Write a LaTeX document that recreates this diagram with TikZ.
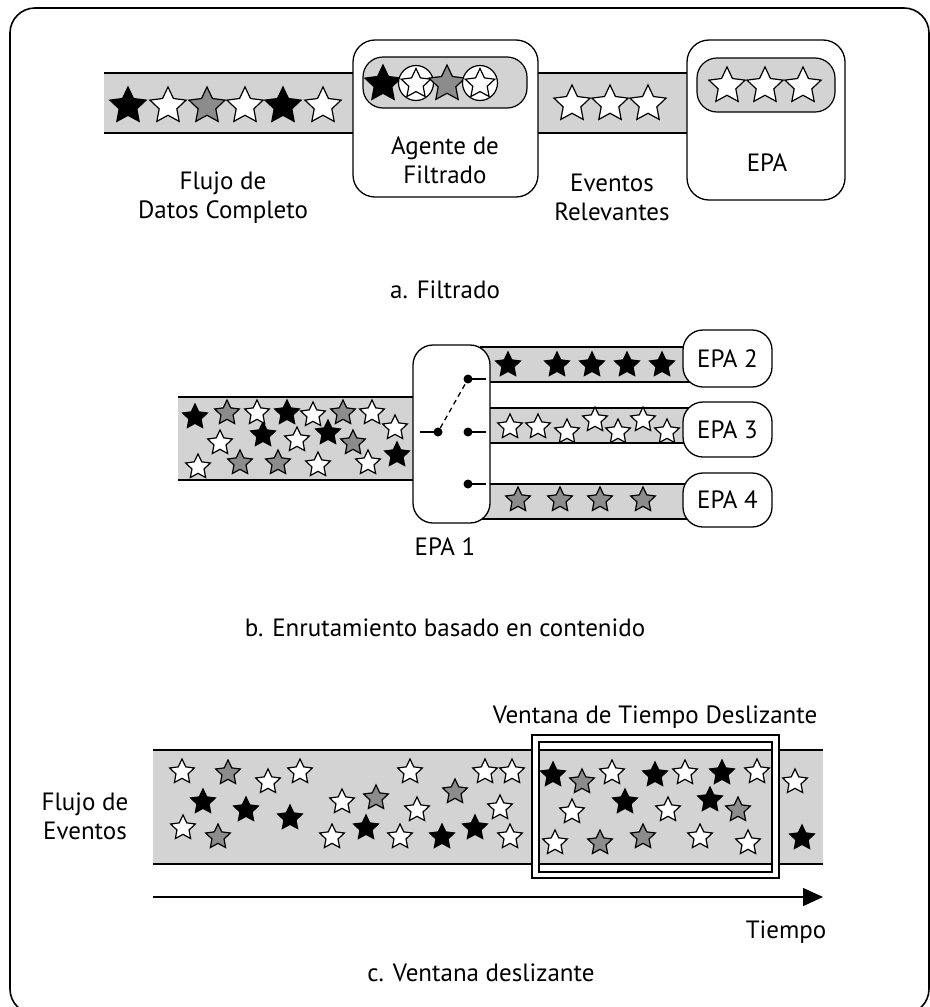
\documentclass[tikz,border=0pt]{standalone}
\usepackage{fontspec}
\setmainfont{PT Sans}
\usetikzlibrary{positioning, arrows.meta, shapes.geometric}
\definecolor{bandgray}{RGB}{211,211,211}
\definecolor{stargray}{RGB}{140,140,140}
\tikzset{
  % --- event stars ---
  starbase/.style={shape=star, star points=5, star point ratio=2.05, draw,
    line width=1.2bp, inner sep=0pt, minimum size=#1},
  starbase/.default=26bp,
  bstar/.style={starbase=#1, fill=black}, bstar/.default=26bp,
  gstar/.style={starbase=#1, fill=stargray}, gstar/.default=26bp,
  wstar/.style={starbase=#1, fill=white}, wstar/.default=26bp,
  ringstar/.style={circle, draw, fill=white, line width=1.2bp, minimum size=35bp,
    inner sep=0pt},
  % --- streams and agents ---
  band/.style={fill=bandgray},
  bandline/.style={line width=1.3bp},
  agentbox/.style={draw, fill=white, rounded corners=22bp, line width=1.3bp,
    inner sep=0pt},
  pill/.style={draw, fill=bandgray, rounded corners=20bp, line width=1.2bp,
    inner sep=0pt},
  epabox/.style={draw, fill=white, rounded corners=20bp, line width=1.3bp,
    minimum width=89bp, inner sep=0pt, font=\fontsize{25bp}{29bp}\selectfont},
  lbl/.style={align=center, inner sep=0pt, font=\fontsize{25bp}{29bp}\selectfont},
  % --- switch ---
  dot/.style={circle, fill=black, inner sep=0pt, minimum size=9bp},
  wire/.style={line width=1.3bp},
  timearrow/.style={-{Triangle[length=20bp, width=18bp]}, line width=1.3bp},
}

\begin{document}
\begin{tikzpicture}[x=1bp, y=-1bp]
  \useasboundingbox (0,0) rectangle (930,1007);
  \draw[line width=1.6bp, rounded corners=25bp] (10,8) rectangle (929,1014);

  % ---- a. Filtrado ----
  \fill[band] (104,73) rectangle (360,133);
  \draw[bandline] (104,73) -- (360,73) (104,133) -- (360,133);
  \fill[band] (530,73) rectangle (695,133);
  \draw[bandline] (530,73) -- (695,73) (530,133) -- (695,133);
  \node[agentbox, minimum width=185bp, minimum height=157bp] (filtro) at (445.5,118.5) {};
  \node[pill, minimum width=164bp, minimum height=51bp] (filtropill) at (445,82.5) {};
  \node[agentbox, minimum width=158bp, minimum height=160bp] (epa) at (766,120) {};
  \node[pill, minimum width=138bp, minimum height=54bp] (epapill) at (766,85) {};
  \foreach \x/\k [count=\i] in {128/b,168/w,207/g,245/w,283/b,323/w}
    \node[\k star=38bp] (fa\i) at (\x,106) {};
  \node[bstar=38bp] (fp1) at (383,84) {};
  \node[ringstar] (fr1) at (416,83) {};
  \node[wstar=31bp] (fp2) at (416,84) {};
  \node[gstar=38bp] (fp3) at (447,84) {};
  \node[ringstar] (fr2) at (480,83) {};
  \node[wstar=31bp] (fp4) at (480,84) {};
  \foreach \x [count=\i] in {572,610,648}
    \node[wstar=38bp] (fe\i) at (\x,104) {};
  \foreach \x [count=\i] in {727,765,803}
    \node[wstar=38bp] (fq\i) at (\x,86) {};
  \node[lbl] (flujo) at (223,198) {Flujo de\\Datos Completo};
  \node[lbl] (agente) at (445,160) {Agente de\\Filtrado};
  \node[lbl] (relev) at (612,197) {Eventos\\Relevantes};
  \node[lbl] (epatxt) at (767,163) {EPA};
  \node[lbl] (capa) at (445,290) {a. Filtrado};

  % ---- b. Enrutamiento ----
  \fill[band] (178,397) rectangle (420,480);
  \draw[bandline] (178,397) -- (420,397) (178,480) -- (420,480);
  \foreach \y in {347,408,484}{
    \fill[band] (480,\y) rectangle (700,\y+35);
    \draw[bandline] (480,\y) -- (700,\y) (480,\y+35) -- (700,\y+35);
  }
  \node[agentbox, rounded corners=20bp, minimum width=77bp, minimum height=178bp] (epa1) at (451.5,434) {};
  \node[epabox, minimum height=57bp] (epa2) at (727.5,358.5) {EPA 2};
  \node[epabox, minimum height=55bp] (epa3) at (727.5,429.5) {EPA 3};
  \node[epabox, minimum height=54bp] (epa4) at (727.5,500) {EPA 4};
  \coordinate (swin) at (420,432);
  \node[dot] (din) at (438,432) {};
  \node[dot] (dout1) at (468,379) {};
  \node[dot] (dout2) at (468,432) {};
  \node[dot] (dout3) at (468,484) {};
  \foreach \j in {1,2,3}
    \draw[wire] (dout\j.center) -- ++(18,0) coordinate (sw\j);
  \draw[wire] (swin) -- (din.center);
  \draw[wire, dashed, dash pattern=on 5bp off 4bp] (din) -- (dout1);
  \foreach \x/\y [count=\i] in {195/417,287/413,263/435,328/433,397/455}
    \node[bstar] (rb\i) at (\x,\y) {};
  \foreach \x/\y [count=\i] in {227/413,343/413,353/443,240/463,278/463}
    \node[gstar] (rg\i) at (\x,\y) {};
  \foreach \x/\y [count=\i] in {257/413,313/415,372/413,395/428,220/443,297/440,198/467,318/465,368/463}
    \node[wstar] (rw\i) at (\x,\y) {};
  \foreach \x [count=\i] in {508,557,592,627,662}
    \node[bstar] (ob\i) at (\x,365) {};
  \foreach \x/\y [count=\i] in {510/427,538/427,567/432,595/420,618/432,643/420,667/432}
    \node[wstar] (ow\i) at (\x,\y) {};
  \foreach \x [count=\i] in {518,560,600,643}
    \node[gstar] (og\i) at (\x,500) {};
  \node[lbl] (epa1txt) at (445,547) {EPA 1};
  \node[lbl] (capb) at (445,628) {b. Enrutamiento basado en contenido};

  % ---- c. Ventana deslizante ----
  \fill[band] (153,750) rectangle (823,864);
  \draw[bandline] (153,750) -- (823,750) (153,864) -- (823,864);
  \fill[white, even odd rule] (532,735) rectangle (779,878) (539,742) rectangle (772,872);
  \draw[line width=1.2bp] (532,735) rectangle (779,878);
  \draw[line width=1.4bp] (539,742) rectangle (772,872);
  \foreach \x/\y [count=\i] in {182/772,268/782,300/772,183/828,342/802,417/810,410/772,485/772,512/772,500/808,332/837,400/837,510/837,612/773,685/773,757/772,795/782,572/812,668/810,555/843,700/837,748/843}
    \node[wstar] (cw\i) at (\x,\y) {};
  \foreach \x/\y [count=\i] in {228/773,218/837,376/798,455/792,582/782,738/810,600/843,643/837}
    \node[gstar] (cg\i) at (\x,\y) {};
  \foreach \x/\y [count=\i] in {203/802,246/810,290/818,366/828,442/837,475/828,553/775,655/775,722/773,625/802,710/800,802/838}
    \node[bstar] (cb\i) at (\x,\y) {};
  \coordinate (t0) at (153,897);
  \coordinate (t1) at (823,897);
  \draw[timearrow] (t0) -- (t1);
  \node[lbl] (ventana) at (655,717) {Ventana de Tiempo Deslizante};
  \node[lbl] (flujoev) at (85,816) {Flujo de\\Eventos};
  \node[lbl] (tiempo) at (786,932) {Tiempo};
  \node[lbl] (capc) at (481,973) {c. Ventana deslizante};
\end{tikzpicture}
\end{document}
